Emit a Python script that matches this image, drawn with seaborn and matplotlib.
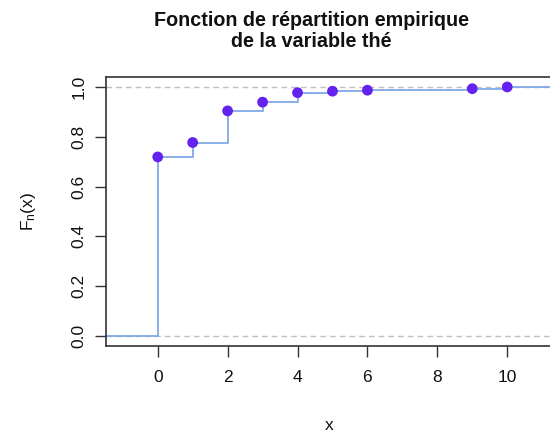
import matplotlib
matplotlib.use("Agg")
import matplotlib.pyplot as plt
import seaborn as sns
import numpy as np
import pandas as pd

# data
x_vals = [0, 1, 2, 3, 4, 5, 6, 9, 10]
fn_vals = [0.719, 0.777, 0.904, 0.939, 0.977, 0.983, 0.987, 0.993, 1.0]
x_ticks = [0, 2, 4, 6, 8, 10]
y_ticks = [0.0, 0.2, 0.4, 0.6, 0.8, 1.0]
title = "Fonction de répartition empirique\nde la variable thé"

sns.set_style("white")
plt.rcParams['font.family'] = ['Liberation Sans', 'DejaVu Sans']
plt.rcParams['mathtext.fontset'] = 'custom'
plt.rcParams['mathtext.rm'] = 'Liberation Sans'
plt.rcParams['mathtext.it'] = 'Liberation Sans'
plt.rcParams['text.color'] = '#111111'
plt.rcParams['axes.labelcolor'] = '#111111'
plt.rcParams['xtick.color'] = '#111111'
plt.rcParams['ytick.color'] = '#111111'

fig = plt.figure(figsize=(5.5, 4.34), dpi=100)
ax = fig.add_axes([106/550, 1 - 346/434, (553 - 106)/550, (346 - 77)/434])

xmin, xmax = -1.48, 11.31
ax.set_xlim(xmin, xmax)
ax.set_ylim(-0.04, 1.04)

# reference lines
for yv in (0, 1):
    ax.axhline(yv, color="#c0c0c0", lw=1, ls=(0, (4, 3)), zorder=1)

step_df = pd.DataFrame({
    "x": [xmin] + x_vals + [xmax],
    "y": [0.0] + fn_vals + [fn_vals[-1]],
})
sns.lineplot(data=step_df, x="x", y="y", drawstyle="steps-post",
             color="#80a8e6", lw=1.3, ax=ax, zorder=2, sort=False)

pts = pd.DataFrame({"x": x_vals, "y": fn_vals})
sns.scatterplot(data=pts, x="x", y="y", color="#6422ee", s=60,
                edgecolor="none", ax=ax, zorder=3)

ax.set_xticks(x_ticks)
ax.set_yticks(y_ticks)
ax.set_xticklabels([str(t) for t in x_ticks], fontsize=12.5)
ax.set_yticklabels([f"{t:.1f}" for t in y_ticks], fontsize=12.5,
                   rotation=90, va="center")
ax.tick_params(axis="x", direction="out", length=8, width=1,
               color="#333333", pad=9, bottom=True)
ax.tick_params(axis="y", direction="out", length=8, width=1,
               color="#333333", pad=6, left=True)
for s in ax.spines.values():
    s.set_color("#333333")
    s.set_linewidth(1.2)

ax.set_xlabel("x", fontsize=12.5, labelpad=24)
ax.set_ylabel(r"$\mathrm{F_n(x)}$", fontsize=12.5, labelpad=24)

fig.text(311/550, 1 - 31/434, title, ha="center", va="center",
         fontsize=14.2, fontweight="bold", linespacing=1.1)

fig.savefig("out.png", dpi=100)
